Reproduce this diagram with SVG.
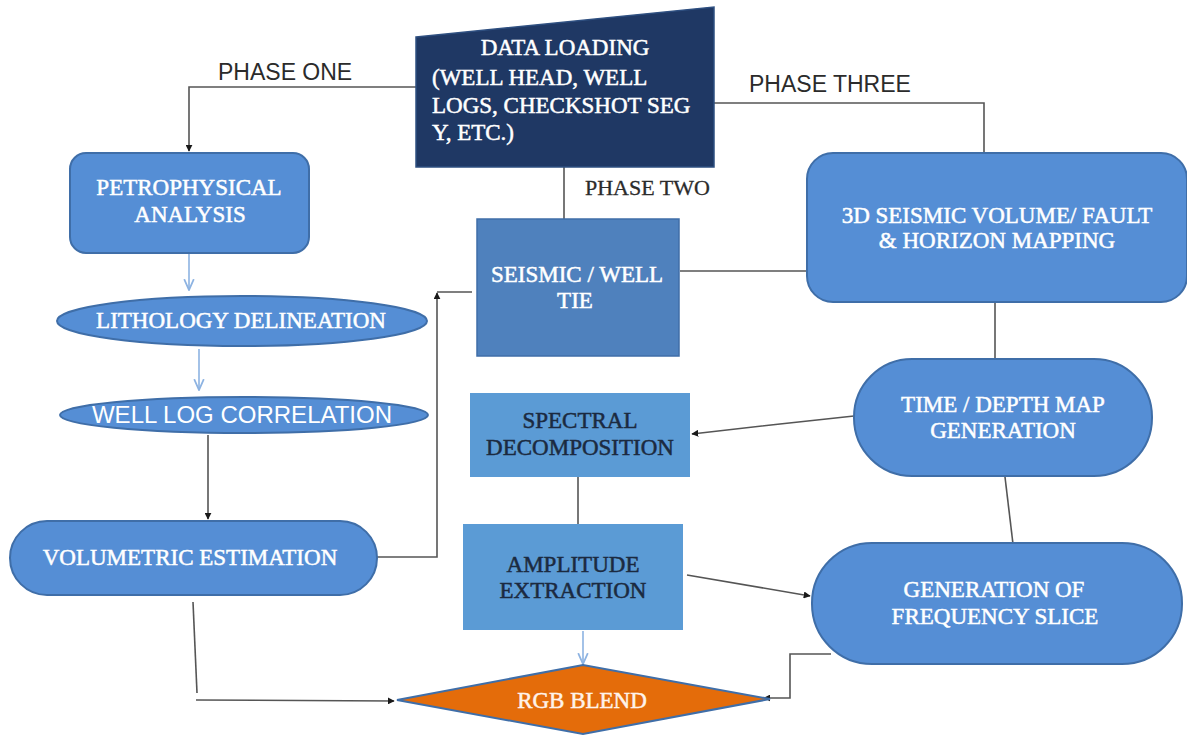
<svg xmlns="http://www.w3.org/2000/svg" width="1187" height="738" viewBox="0 0 1187 738">
<style>
.node{fill:#558ed5;stroke:#3f6ea8;stroke-width:2}
.dark{fill:#4f81bd;stroke:#3f6ea8;stroke-width:1.5}
.light{fill:#5b9bd5;stroke:none}
.t{font-family:"Liberation Serif","Times New Roman",serif;font-size:23px;fill:#ffffff;stroke:#ffffff;stroke-width:0.5;text-anchor:middle}
.td{font-family:"Liberation Serif","Times New Roman",serif;font-size:23px;fill:#1b2a40;stroke:#1b2a40;stroke-width:0.5;text-anchor:middle}
.ph{font-family:"Liberation Sans",Arial,sans-serif;font-size:23px;fill:#2b2b2b}
.c{fill:none;stroke:#555555;stroke-width:1.6}
.cl{fill:none;stroke:#8db3e2;stroke-width:1.6}
</style>
<defs>
<marker id="ab" viewBox="0 0 10 10" refX="9" refY="5" markerWidth="7" markerHeight="7" orient="auto" markerUnits="userSpaceOnUse"><path d="M0,0 L10,5 L0,10 z" fill="#1a1a1a"/></marker>
<marker id="al" viewBox="0 0 10 10" refX="9" refY="5" markerWidth="12" markerHeight="12" orient="auto" markerUnits="userSpaceOnUse"><path d="M0,1 L9,5 L0,9" fill="none" stroke="#8db3e2" stroke-width="1.5"/></marker>
</defs>
<rect width="1187" height="738" fill="#ffffff"/>

<g id="connectors">
<polyline class="c" points="416,87 189,87 189,151" marker-end="url(#ab)"/>
<polyline class="c" points="714,103 984,103 984,153"/>
<line class="c" x1="564" y1="167" x2="564" y2="219"/>
<line class="cl" x1="189" y1="254" x2="189" y2="290" marker-end="url(#al)"/>
<line class="cl" x1="199" y1="349" x2="199" y2="390" marker-end="url(#al)"/>
<line class="c" x1="208" y1="435" x2="208" y2="519" marker-end="url(#ab)"/>
<polyline class="c" points="377,557 437,557 437,293" marker-end="url(#ab)"/>
<line class="c" x1="437" y1="292" x2="472" y2="292"/>
<line class="c" x1="680" y1="271" x2="806" y2="271"/>
<line class="c" x1="995" y1="303" x2="995" y2="358"/>
<polyline class="c" points="854,416 780,424 692,434" marker-end="url(#ab)"/>
<line class="c" x1="578" y1="477" x2="578" y2="524"/>
<line class="c" x1="1005" y1="477" x2="1013" y2="544"/>
<line class="c" x1="687" y1="575" x2="810" y2="596" marker-end="url(#ab)"/>
<line class="cl" x1="583" y1="631" x2="583" y2="664" marker-end="url(#al)"/>
<polyline class="c" points="193,602 197,693"/>
<line class="c" x1="196" y1="700" x2="394" y2="701" marker-end="url(#ab)"/>
<polyline class="c" points="831,654 790,654 790,698 764,698" marker-end="url(#ab)"/>
</g>

<g id="phase-labels">
<text class="ph" x="218" y="80">PHASE ONE</text>
<text class="ph" x="749" y="92">PHASE THREE</text>
<text x="585" y="195" style="font-family:'Liberation Serif','Times New Roman',serif;font-size:22px;fill:#2b2b2b;stroke:#2b2b2b;stroke-width:0.3">PHASE TWO</text>
</g>

<g id="data-loading">
<polygon points="416,37 714,7 714,167 416,167" fill="#1f3864" stroke="#2e4f80" stroke-width="1.5"/>
<text class="t" x="565" y="55">DATA LOADING</text>
<text class="t" x="432" y="85" style="text-anchor:start">(WELL HEAD, WELL</text>
<text class="t" x="432" y="113" style="text-anchor:start">LOGS, CHECKSHOT SEG</text>
<text class="t" x="432" y="140" style="text-anchor:start">Y, ETC.)</text>
</g>

<g id="petrophysical">
<rect class="node" x="70" y="153" width="239" height="100" rx="16"/>
<text class="t" x="189" y="195">PETROPHYSICAL</text>
<text class="t" x="190" y="222">ANALYSIS</text>
</g>

<g id="lithology">
<ellipse class="node" cx="242" cy="321" rx="185" ry="25"/>
<text class="t" x="241" y="328">LITHOLOGY DELINEATION</text>
</g>

<g id="well-log">
<ellipse class="node" cx="244" cy="415" rx="184" ry="18"/>
<text x="242" y="423" style="font-family:'Liberation Sans',Arial,sans-serif;font-size:24px;fill:#ffffff;text-anchor:middle">WELL LOG CORRELATION</text>
</g>

<g id="volumetric">
<rect class="node" x="10" y="521" width="367" height="74" rx="37"/>
<text class="t" x="190" y="565">VOLUMETRIC ESTIMATION</text>
</g>

<g id="seismic-tie">
<rect class="dark" x="477" y="219" width="202" height="137"/>
<text class="t" x="577" y="282">SEISMIC / WELL</text>
<text class="t" x="575" y="308">TIE</text>
</g>

<g id="seismic-volume">
<rect class="node" x="807" y="153" width="380" height="149" rx="26"/>
<text class="t" x="997" y="223">3D SEISMIC VOLUME/ FAULT</text>
<text class="t" x="997" y="248">&amp; HORIZON MAPPING</text>
</g>

<g id="time-depth">
<rect class="node" x="854" y="359" width="298" height="117" rx="58"/>
<text class="t" x="1003" y="412">TIME / DEPTH MAP</text>
<text class="t" x="1003" y="438">GENERATION</text>
</g>

<g id="spectral">
<rect class="light" x="470" y="393" width="220" height="84"/>
<text class="td" x="580" y="428">SPECTRAL</text>
<text class="td" x="580" y="455">DECOMPOSITION</text>
</g>

<g id="amplitude">
<rect class="light" x="463" y="524" width="220" height="106"/>
<text class="td" x="573" y="572">AMPLITUDE</text>
<text class="td" x="573" y="598">EXTRACTION</text>
</g>

<g id="frequency-slice">
<rect class="node" x="812" y="543" width="370" height="121" rx="60"/>
<text class="t" x="994" y="597">GENERATION OF</text>
<text class="t" x="995" y="624">FREQUENCY SLICE</text>
</g>

<g id="rgb-blend">
<polygon points="397,700 583,665 770,699 583,734" fill="#e46c0a" stroke="#3f6ea8" stroke-width="2"/>
<text class="t" x="582" y="708" style="fill:#fff3ea;stroke:#fff3ea">RGB BLEND</text>
</g>
</svg>
